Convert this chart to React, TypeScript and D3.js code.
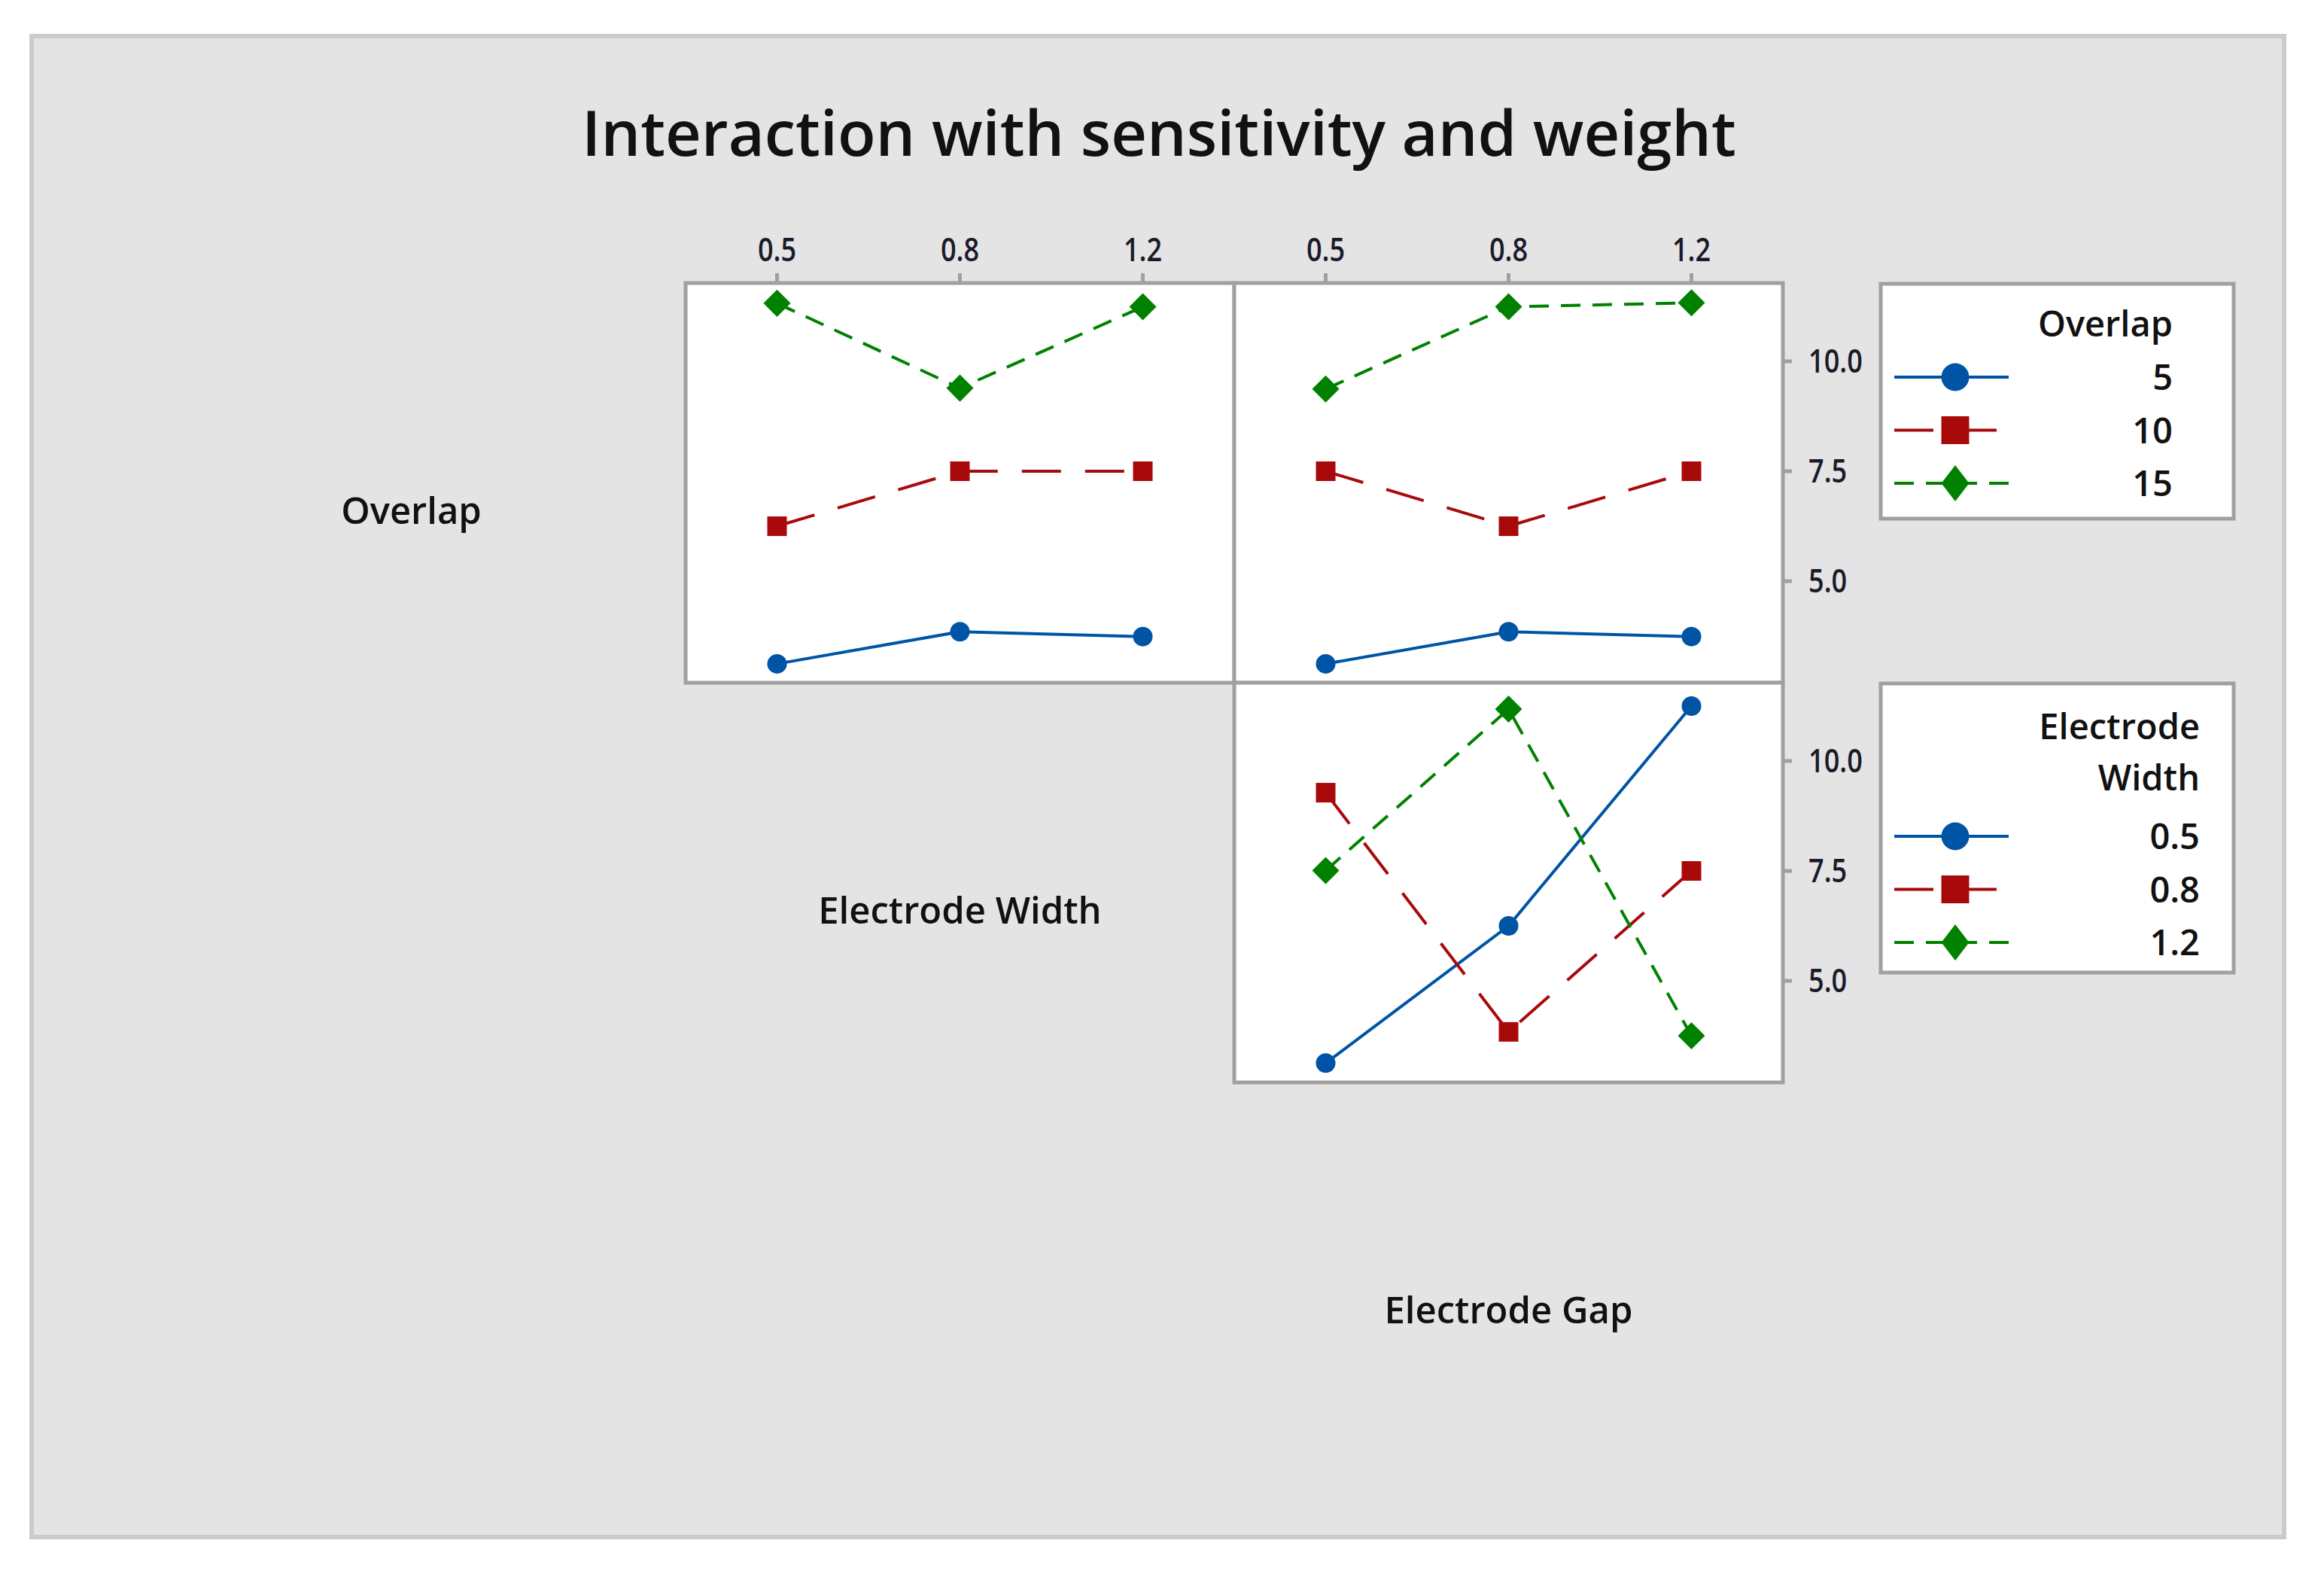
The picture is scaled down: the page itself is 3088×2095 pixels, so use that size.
import React from "react";
import * as d3 from "d3";

// ---------- data ----------
const levels = ["0.5", "0.8", "1.2"];
const yTicks = [5.0, 7.5, 10.0];
const overlapLevels = ["5", "10", "15"];
const widthLevels = ["0.5", "0.8", "1.2"];

// Row 1, col 1: x = Electrode Width, lines by Overlap
const ovByWidth5 = [3.12, 3.85, 3.74];
const ovByWidth10 = [6.25, 7.5, 7.5];
const ovByWidth15 = [11.32, 9.39, 11.24];
// Row 1, col 2: x = Electrode Gap, lines by Overlap
const ovByGap5 = [3.12, 3.85, 3.74];
const ovByGap10 = [7.5, 6.25, 7.5];
const ovByGap15 = [9.37, 11.24, 11.33];
// Row 2, col 2: x = Electrode Gap, lines by Electrode Width
const ewByGap05 = [3.13, 6.25, 11.25];
const ewByGap08 = [9.28, 3.84, 7.5];
const ewByGap12 = [7.51, 11.18, 3.75];

const title = "Interaction with sensitivity and weight";
const factorNames = ["Overlap", "Electrode Width", "Electrode Gap"];

// ---------- styles ----------
const W = 3088;
const H = 2095;
const FONT = "'Open Sans', 'Noto Sans', sans-serif";
const BLUE = "#0054A6";
const RED = "#A80A0C";
const GREEN = "#008200";
const BORDER = "#A0A0A0";

const seriesStyle = [
  { color: BLUE, dash: null as string | null, shape: "circle" },
  { color: RED, dash: "52,32", shape: "square" },
  { color: GREEN, dash: "26,16", shape: "diamond" },
];

const gridLeft = 182;
const gridTop = 376;
const cellW = 729;
const cellH = 531;

const x = d3.scalePoint<string>().domain(levels).range([0, cellW]).padding(0.5);
const y = d3.scaleLinear().domain([2.69, 11.78]).range([cellH, 0]);
const line = d3
  .line<number>()
  .x((_, i) => x(levels[i]) as number)
  .y((v) => y(v));

function markerPath(shape: string, legend: boolean) {
  const k = legend ? 1.42 : 1;
  if (shape === "circle") return d3.symbol(d3.symbolCircle, 531 * k * k)()!;
  if (shape === "square") return d3.symbol(d3.symbolSquare, 676 * k * k)()!;
  return d3.symbol(d3.symbolSquare, 650 * (legend ? 1.05 : 1))()!;
}

function Marker({ shape, color, cx, cy, legend = false }: any) {
  const p = markerPath(shape, legend);
  let t = `translate(${cx},${cy})`;
  if (shape === "diamond") t += legend ? " scale(1,1.3) rotate(45)" : " rotate(45)";
  return <path d={p} transform={t} fill={color} />;
}

function Panel({ col, row, series }: { col: number; row: number; series: number[][] }) {
  const px = gridLeft + col * cellW;
  const py = gridTop + row * cellH;
  return (
    <g transform={`translate(${px},${py})`}>
      <rect x={0} y={0} width={cellW} height={cellH} fill="#fff" stroke={BORDER} strokeWidth={5} />
      {series.map((s, i) => (
        <path
          key={"l" + i}
          d={line(s)!}
          fill="none"
          stroke={seriesStyle[i].color}
          strokeWidth={4}
          strokeDasharray={seriesStyle[i].dash ?? undefined}
        />
      ))}
      {series.map((s, i) =>
        s.map((v, j) => (
          <Marker
            key={`m${i}-${j}`}
            shape={seriesStyle[i].shape}
            color={seriesStyle[i].color}
            cx={x(levels[j])}
            cy={y(v)}
          />
        ))
      )}
    </g>
  );
}

function TopAxis({ col }: { col: number }) {
  const px = gridLeft + col * cellW;
  return (
    <g transform={`translate(${px},${gridTop})`}>
      {levels.map((l) => (
        <g key={l} transform={`translate(${x(l)},0)`}>
          <line x1={0} x2={0} y1={-13} y2={0} stroke={BORDER} strokeWidth={5} />
          <text
            transform="translate(0,-29) scale(0.84,1)"
            textAnchor="middle"
            fontFamily={FONT}
            fontWeight={600}
            fontSize={43}
            fill="#1a1a2a"
          >
            {l}
          </text>
        </g>
      ))}
    </g>
  );
}

function RightAxis({ row }: { row: number }) {
  const px = gridLeft + 3 * cellW;
  const py = gridTop + row * cellH;
  return (
    <g transform={`translate(${px},${py})`}>
      {yTicks.map((t) => (
        <g key={t} transform={`translate(0,${y(t)})`}>
          <line x1={0} x2={12} y1={0} y2={0} stroke={BORDER} strokeWidth={5} />
          <text
            transform="translate(34,15) scale(0.84,1)"
            textAnchor="start"
            fontFamily={FONT}
            fontWeight={600}
            fontSize={43}
            fill="#1a1a2a"
          >
            {d3.format(".1f")(t)}
          </text>
        </g>
      ))}
    </g>
  );
}

function Legend({
  top,
  height,
  titleLines,
  items,
  textRight,
}: {
  top: number;
  height: number;
  titleLines: string[];
  items: string[];
  textRight: number;
}) {
  const left = 2499;
  const width = 469;
  const titleBase = titleLines.length === 1 ? 70 : 74;
  const itemStart = titleLines.length === 1 ? 124 : 203;
  const itemGap = 70.5;
  return (
    <g transform={`translate(${left},${top})`}>
      <rect x={0} y={0} width={width} height={height} fill="#fff" stroke={BORDER} strokeWidth={5} />
      {titleLines.map((t, i) => (
        <text
          key={t}
          x={textRight - left}
          y={titleBase + i * 68}
          textAnchor="end"
          fontFamily={FONT}
          fontWeight={600}
          fontSize={47}
          fill="#111"
        >
          {t}
        </text>
      ))}
      {items.map((it, i) => {
        const cy = itemStart + i * itemGap;
        const st = seriesStyle[i];
        return (
          <g key={it}>
            <line
              x1={18}
              x2={170}
              y1={cy}
              y2={cy}
              stroke={st.color}
              strokeWidth={4}
              strokeDasharray={st.dash ?? undefined}
            />
            <Marker shape={st.shape} color={st.color} cx={99} cy={cy} legend />
            <text
              x={textRight - left}
              y={cy + 17}
              textAnchor="end"
              fontFamily={FONT}
              fontWeight={600}
              fontSize={47}
              fill="#111"
            >
              {it}
            </text>
          </g>
        );
      })}
    </g>
  );
}

export default function App() {
  return (
    <svg
      width={W}
      height={H}
      viewBox={`0 0 ${W} ${H}`}
      style={{ position: "absolute", left: 0, top: 0, display: "block" }}
    >
      <rect x={0} y={0} width={W} height={H} fill="#fff" />
      <rect x={42} y={48} width={2993} height={1994} fill="#E4E4E4" stroke="#CBCBCB" strokeWidth={6} />
      <text
        x={1540}
        y={207}
        textAnchor="middle"
        fontFamily={FONT}
        fontWeight={600}
        fontSize={83}
        fill="#111"
      >
        {title}
      </text>

      {factorNames.map((f, i) => (
        <text
          key={f}
          x={gridLeft + i * cellW + cellW / 2}
          y={gridTop + i * cellH + 320}
          textAnchor="middle"
          fontFamily={FONT}
          fontWeight={600}
          fontSize={49}
          fill="#111"
        >
          {f}
        </text>
      ))}

      <Panel col={1} row={0} series={[ovByWidth5, ovByWidth10, ovByWidth15]} />
      <Panel col={2} row={0} series={[ovByGap5, ovByGap10, ovByGap15]} />
      <Panel col={2} row={1} series={[ewByGap05, ewByGap08, ewByGap12]} />

      <TopAxis col={1} />
      <TopAxis col={2} />
      <RightAxis row={0} />
      <RightAxis row={1} />

      <Legend top={377} height={312} titleLines={["Overlap"]} items={overlapLevels} textRight={2887} />
      <Legend
        top={908}
        height={384}
        titleLines={["Electrode", "Width"]}
        items={widthLevels}
        textRight={2923}
      />
    </svg>
  );
}
